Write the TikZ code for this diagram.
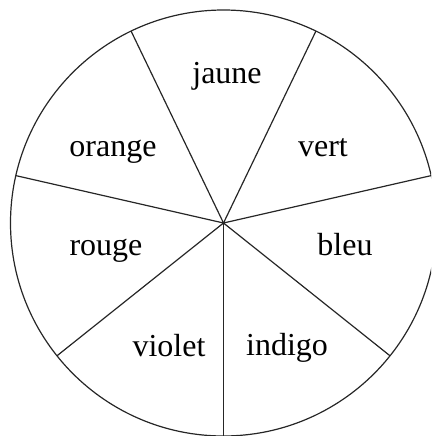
\documentclass[tikz,border=0pt]{standalone}
\usepackage{fontspec}
\setmainfont{Liberation Serif}
\usetikzlibrary{calc}
\begin{document}
\begin{tikzpicture}[x=1pt,y=-1pt,
  spoke/.style={line width=1.2pt,black!85},
  lbl/.style={font=\fontsize{32}{36}\selectfont,anchor=base,inner sep=0pt}]
\useasboundingbox (0,0) rectangle (431,436);
\clip (0,0) rectangle (431,436);
\coordinate (c) at (223.5,223);
\draw[spoke] (c) circle[radius=213pt];
\foreach \a [count=\i] in {-90,-38.571,12.857,64.286,115.714,167.143,218.571}{
  \coordinate (e\i) at ($(c)+(\a:213pt)$);
}
\foreach \i in {1,...,7}{\draw[spoke] (c) -- (e\i);}
\node[lbl] (jaune) at (227,83.3) {jaune};
\node[lbl] (orange) at (113,156.7) {orange};
\node[lbl] (vert) at (323,156.7) {vert};
\node[lbl] (rouge) at (106,255) {rouge};
\node[lbl] (bleu) at (345,255) {bleu};
\node[lbl] (violet) at (169,356.7) {violet};
\node[lbl] (indigo) at (287,355.5) {indigo};
\end{tikzpicture}
\end{document}
